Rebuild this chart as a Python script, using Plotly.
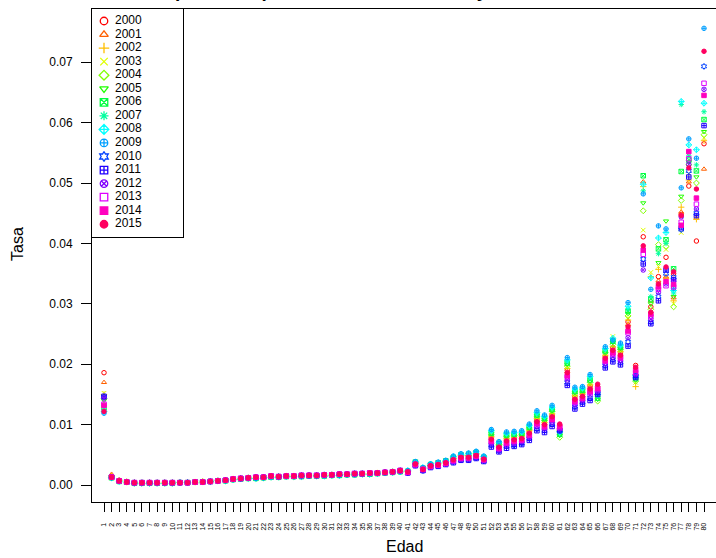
import plotly.graph_objects as go

# ---------------- data (tasas por 10 000) ----------------
ESCALA = 10000.0
edades = list(range(1, 81))
anios = [str(a) for a in range(2000, 2016)]

t2000 = [186, 14, 8, 6, 4, 4, 4, 4, 4, 4,
         4, 4, 5, 6, 6, 7, 8, 10, 11, 12,
         12, 13, 14, 14, 15, 15, 15, 16, 16, 16,
         17, 17, 18, 18, 19, 19, 20, 21, 22, 23,
         22, 36, 27, 32, 35, 38, 43, 47, 48, 51,
         44, 79, 64, 76, 78, 80, 89, 108, 103, 116,
         99, 190, 146, 150, 164, 163, 213, 227, 219, 270,
         198, 411, 295, 345, 377, 350, 448, 495, 404, 565]
t2001 = [170, 18, 7, 5, 4, 4, 4, 4, 4, 4,
         4, 4, 5, 6, 6, 7, 8, 10, 11, 12,
         12, 13, 14, 14, 15, 15, 15, 16, 16, 16,
         17, 17, 18, 18, 19, 19, 20, 21, 22, 23,
         22, 35, 26, 32, 35, 38, 42, 46, 47, 50,
         44, 78, 64, 75, 77, 79, 88, 107, 102, 115,
         94, 188, 144, 148, 162, 158, 212, 225, 217, 266,
         185, 502, 305, 338, 345, 310, 452, 502, 442, 523]
t2002 = [150, 15, 7, 5, 4, 4, 4, 4, 4, 4,
         4, 4, 5, 6, 6, 7, 8, 10, 11, 12,
         12, 13, 14, 14, 15, 15, 15, 16, 16, 16,
         17, 17, 18, 18, 19, 19, 20, 21, 22, 23,
         22, 36, 27, 33, 35, 38, 44, 48, 48, 51,
         44, 80, 65, 77, 79, 81, 90, 110, 104, 118,
         90, 193, 148, 151, 166, 150, 215, 229, 221, 273,
         163, 494, 345, 357, 342, 305, 460, 505, 440, 570]
t2003 = [152, 13, 7, 5, 4, 4, 4, 4, 4, 4,
         4, 4, 5, 6, 6, 7, 8, 10, 11, 12,
         12, 13, 14, 14, 15, 15, 15, 16, 16, 16,
         17, 17, 18, 18, 19, 19, 20, 21, 22, 23,
         23, 37, 27, 33, 36, 39, 44, 48, 49, 52,
         45, 82, 66, 79, 80, 82, 92, 111, 106, 120,
         87, 195, 149, 153, 168, 145, 217, 246, 222, 277,
         170, 422, 352, 362, 390, 300, 418, 515, 445, 575]
t2004 = [143, 13, 7, 5, 3, 3, 3, 3, 3, 3,
         4, 4, 5, 5, 6, 7, 7, 9, 10, 11,
         11, 12, 13, 13, 14, 14, 14, 15, 15, 15,
         16, 16, 17, 17, 18, 18, 19, 20, 21, 22,
         23, 37, 27, 33, 36, 39, 45, 49, 49, 52,
         45, 83, 67, 80, 82, 83, 93, 113, 107, 122,
         79, 197, 151, 154, 170, 139, 219, 233, 224, 280,
         172, 454, 291, 398, 395, 295, 471, 530, 500, 580]
t2005 = [140, 13, 7, 5, 3, 3, 3, 3, 3, 3,
         4, 4, 5, 5, 6, 7, 7, 9, 10, 11,
         11, 12, 13, 13, 14, 14, 14, 15, 15, 15,
         16, 16, 17, 17, 18, 18, 19, 20, 21, 22,
         23, 37, 28, 34, 36, 39, 45, 49, 50, 53,
         46, 85, 68, 81, 83, 84, 94, 115, 109, 123,
         82, 200, 153, 156, 172, 142, 220, 236, 226, 284,
         174, 467, 300, 368, 437, 312, 478, 535, 510, 585]
t2006 = [128, 12, 6, 5, 3, 3, 3, 3, 3, 3,
         4, 4, 5, 5, 6, 7, 7, 9, 10, 11,
         11, 12, 13, 13, 14, 14, 14, 15, 15, 15,
         16, 16, 17, 17, 18, 18, 19, 20, 21, 22,
         23, 38, 28, 34, 37, 40, 46, 50, 51, 54,
         46, 86, 69, 83, 84, 85, 96, 116, 110, 125,
         84, 202, 155, 157, 174, 144, 222, 238, 228, 288,
         176, 512, 308, 391, 406, 358, 519, 538, 520, 605]
t2007 = [125, 12, 6, 5, 3, 3, 3, 3, 3, 3,
         4, 4, 5, 5, 6, 7, 7, 9, 10, 11,
         11, 12, 13, 13, 14, 14, 14, 15, 15, 15,
         16, 16, 17, 17, 18, 18, 19, 20, 21, 22,
         23, 38, 28, 34, 37, 40, 46, 50, 51, 54,
         47, 88, 69, 84, 85, 87, 97, 118, 112, 127,
         86, 204, 157, 159, 177, 147, 224, 240, 230, 291,
         178, 487, 312, 383, 400, 318, 630, 545, 530, 618]
t2008 = [122, 12, 6, 5, 3, 3, 3, 3, 3, 3,
         4, 4, 5, 5, 6, 7, 7, 9, 10, 11,
         11, 12, 13, 13, 14, 14, 14, 15, 15, 15,
         16, 16, 17, 17, 18, 18, 19, 20, 21, 22,
         24, 38, 29, 35, 37, 40, 47, 51, 52, 55,
         47, 90, 71, 86, 87, 88, 99, 120, 114, 129,
         88, 207, 159, 161, 180, 150, 226, 243, 232, 296,
         181, 498, 343, 409, 418, 322, 635, 563, 555, 632]
t2009 = [119, 12, 6, 5, 3, 3, 3, 3, 3, 3,
         4, 4, 5, 5, 6, 7, 7, 9, 10, 11,
         11, 12, 13, 13, 14, 14, 14, 15, 15, 15,
         16, 16, 17, 17, 18, 18, 19, 20, 21, 22,
         24, 39, 29, 35, 38, 41, 48, 52, 53, 56,
         48, 92, 72, 88, 89, 90, 101, 123, 116, 132,
         89, 211, 162, 163, 183, 153, 229, 240, 235, 302,
         183, 482, 324, 429, 424, 326, 492, 573, 541, 756]
t2010 = [146, 13, 7, 5, 4, 4, 4, 4, 4, 4,
         4, 4, 5, 5, 6, 7, 8, 10, 11, 12,
         13, 13, 15, 14, 15, 15, 16, 16, 16, 17,
         17, 18, 18, 19, 19, 20, 20, 21, 22, 24,
         20, 33, 24, 30, 32, 35, 38, 42, 42, 45,
         40, 66, 57, 64, 66, 69, 77, 93, 90, 101,
         91, 170, 130, 137, 144, 152, 198, 208, 203, 237,
         180, 374, 270, 312, 350, 344, 423, 520, 450, 693]
t2011 = [147, 13, 7, 5, 4, 4, 4, 4, 4, 4,
         4, 4, 5, 5, 6, 7, 8, 10, 11, 12,
         13, 13, 15, 14, 15, 15, 16, 16, 16, 17,
         17, 18, 18, 19, 19, 20, 20, 21, 22, 24,
         20, 32, 24, 29, 31, 34, 37, 41, 41, 44,
         39, 63, 55, 61, 64, 67, 74, 90, 87, 97,
         90, 165, 126, 134, 140, 150, 194, 204, 199, 230,
         178, 366, 267, 305, 356, 340, 426, 510, 446, 595]
t2012 = [144, 13, 7, 5, 4, 4, 4, 4, 4, 4,
         4, 4, 5, 5, 6, 7, 8, 10, 11, 12,
         13, 13, 15, 14, 15, 15, 16, 16, 16, 17,
         17, 18, 18, 19, 19, 20, 20, 21, 22, 24,
         21, 33, 25, 30, 32, 35, 39, 43, 43, 46,
         41, 69, 58, 66, 69, 72, 79, 97, 93, 104,
         93, 174, 133, 140, 149, 155, 201, 212, 206, 244,
         183, 356, 275, 319, 333, 337, 444, 531, 457, 655]
t2013 = [134, 13, 7, 5, 4, 4, 4, 4, 4, 4,
         4, 4, 5, 5, 6, 7, 8, 10, 11, 12,
         13, 13, 15, 14, 15, 15, 16, 16, 16, 17,
         17, 18, 18, 19, 19, 20, 20, 21, 22, 24,
         21, 34, 26, 31, 33, 36, 40, 44, 45, 48,
         42, 72, 60, 69, 72, 74, 82, 100, 96, 108,
         95, 179, 137, 143, 153, 158, 205, 217, 210, 252,
         186, 382, 279, 324, 330, 328, 435, 540, 465, 665]
t2014 = [132, 13, 7, 5, 4, 4, 4, 4, 4, 4,
         4, 4, 5, 5, 6, 7, 8, 10, 11, 12,
         13, 13, 15, 14, 15, 15, 16, 16, 16, 17,
         17, 18, 18, 19, 19, 20, 20, 21, 22, 24,
         21, 34, 26, 31, 33, 36, 41, 45, 45, 48,
         42, 73, 61, 70, 73, 75, 83, 102, 97, 109,
         97, 181, 139, 144, 155, 160, 206, 219, 212, 255,
         190, 389, 283, 328, 337, 332, 430, 552, 475, 645]
t2015 = [122, 13, 7, 5, 4, 4, 4, 4, 4, 4,
         4, 4, 5, 5, 6, 7, 8, 10, 11, 12,
         13, 13, 15, 14, 15, 15, 16, 16, 16, 17,
         17, 18, 18, 19, 19, 20, 20, 21, 22, 24,
         22, 35, 26, 32, 34, 37, 42, 46, 46, 49,
         43, 76, 63, 73, 75, 77, 86, 105, 100, 113,
         101, 186, 142, 147, 159, 167, 210, 223, 215, 262,
         195, 396, 286, 333, 361, 353, 446, 525, 490, 718]

series = [t2000, t2001, t2002, t2003, t2004, t2005, t2006, t2007,
          t2008, t2009, t2010, t2011, t2012, t2013, t2014, t2015]

y_ticks = [0.00, 0.01, 0.02, 0.03, 0.04, 0.05, 0.06, 0.07]
y_ticktext = ["0.00", "0.01", "0.02", "0.03", "0.04", "0.05", "0.06", "0.07"]

# ---------------- styles ----------------
colores = ["#FF0000", "#FF6000", "#FFBF00", "#DFFF00", "#80FF00", "#20FF00",
           "#00FF40", "#00FF9F", "#00FFFF", "#009FFF", "#0040FF", "#2000FF",
           "#8000FF", "#DF00FF", "#FF00BF", "#FF0060"]
simbolos = ["circle-open", "triangle-up-open", "cross-thin-open", "x-thin-open",
            "diamond-open", "triangle-down-open", "square-x-open", "asterisk-open",
            "diamond-cross-open", "circle-cross-open", "hexagram-open",
            "square-cross-open", "circle-x-open", "square-open", "square", "circle"]

FONT = "Liberation Sans, Arial, Helvetica, sans-serif"
W, H = 716, 558
L, R, T, B = 92, 0, 9, 56
PW, PH = W - L - R, H - T - B

fig = go.Figure()

for vals, col, sym, lab in zip(series, colores, simbolos, anios):
    fig.add_trace(go.Scatter(
        x=edades, y=[v / ESCALA for v in vals], mode="markers", name=lab,
        showlegend=False,
        marker=dict(symbol=sym, size=4.5, color=col,
                    line=dict(width=1, color=col)),
    ))

# ---- hand-made legend box (R style) ----
leg_w, leg_h = 91, 228
leg_y = [12 + i * 13.55 for i in range(len(anios))]
for i, (col, sym, lab) in enumerate(zip(colores, simbolos, anios)):
    fig.add_trace(go.Scatter(
        x=[12], y=[leg_y[i]], mode="markers", xaxis="x2", yaxis="y2",
        showlegend=False, hoverinfo="skip",
        marker=dict(symbol=sym, size=7.5, color=col, line=dict(width=1.3, color=col)),
    ))
fig.add_trace(go.Scatter(
    x=[23] * len(anios), y=leg_y, mode="text", text=anios,
    textposition="middle right", xaxis="x2", yaxis="y2", showlegend=False,
    hoverinfo="skip", textfont=dict(size=12, color="black", family=FONT),
))

fig.update_layout(
    width=W, height=H,
    margin=dict(l=L, r=R, t=T, b=B, pad=0),
    paper_bgcolor="white", plot_bgcolor="white",
    font=dict(family=FONT, color="black"),
    xaxis=dict(
        range=[-0.58, 81.58], tickmode="array", tickvals=edades,
        ticktext=[str(e) for e in edades], tickangle=-90,
        tickfont=dict(size=7, family=FONT), ticks="outside", ticklen=9,
        tickcolor="black", tickwidth=1, showline=True, linecolor="black",
        linewidth=1, mirror=True, showgrid=False, zeroline=False,
        ticklabelstandoff=8,
    ),
    yaxis=dict(
        range=[-0.0028, 0.0788], tickmode="array", tickvals=y_ticks,
        ticktext=y_ticktext, tickfont=dict(size=12, family=FONT),
        ticks="outside", ticklen=10, tickcolor="black", tickwidth=1,
        showline=True, linecolor="black", linewidth=1, showgrid=False,
        zeroline=False, ticklabelstandoff=6,
    ),
    xaxis2=dict(
        domain=[0, leg_w / PW], anchor="y2", range=[0, leg_w],
        showline=True, mirror=True, linecolor="black", linewidth=1,
        showticklabels=False, ticks="", showgrid=False, zeroline=False,
    ),
    yaxis2=dict(
        domain=[1 - leg_h / PH, 1], anchor="x2", range=[leg_h, 0],
        showline=True, mirror=True, linecolor="black", linewidth=1,
        showticklabels=False, ticks="", showgrid=False, zeroline=False,
    ),
    annotations=[
        dict(text="Tasa", x=(17 - L) / PW, y=(H - B - 244) / PH,
             xref="paper", yref="paper", textangle=-90, showarrow=False,
             font=dict(size=16, family=FONT), xanchor="center", yanchor="middle"),
        dict(text="Edad", x=(404 - L) / PW, y=(H - B - 546) / PH,
             xref="paper", yref="paper", showarrow=False,
             font=dict(size=16, family=FONT), xanchor="center", yanchor="middle"),
        dict(text="<b>Tasas específicas por edad de mortalidad y año</b>",
             x=(94 - L) / PW, y=(H - B - 3.0) / PH, xref="paper", yref="paper",
             showarrow=False, font=dict(size=19, family=FONT),
             xanchor="left", yanchor="bottom"),
    ],
)

fig.write_html(
    "out.html",
    config={"displayModeBar": False},
    post_script="document.body.style.margin='0';document.body.style.padding='0';",
)
